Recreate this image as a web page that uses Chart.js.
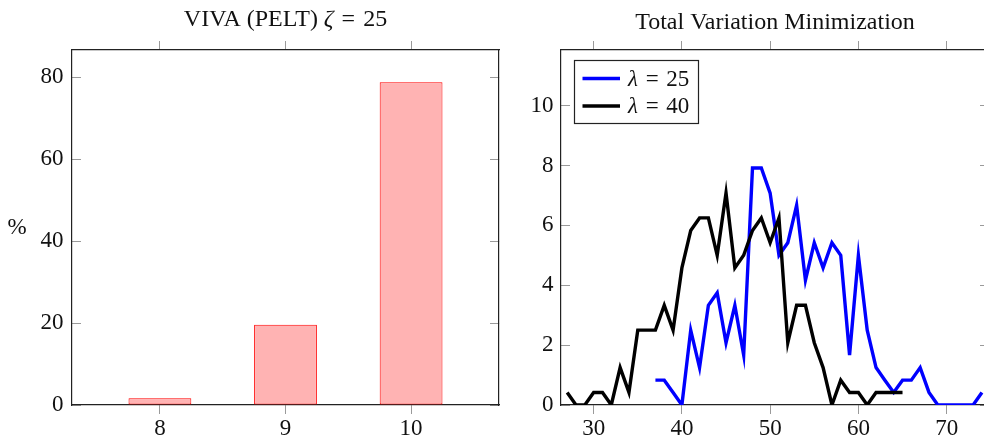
<!DOCTYPE html>
<html>
<head>
<meta charset="utf-8">
<script src="https://cdn.jsdelivr.net/npm/chart.js@4.4.1/dist/chart.umd.min.js"></script>
<style>
  html, body { margin: 0; padding: 0; background: #fff; overflow: hidden; }
  #wrap { position: relative; width: 1000px; height: 439px; }
  .panel { position: absolute; top: 0; }
  #left { left: 0; }
  #right { left: 520px; }
</style>
</head>
<body>
<div id="wrap">
  <div class="panel" id="left"><canvas id="barChart" width="520" height="439"></canvas></div>
  <div class="panel" id="right"><canvas id="tvChart" width="480" height="439"></canvas></div>
</div>
<script>
/* Segment count histogram (left) and TV-minimization distribution (right) */
const FONT = "'Liberation Serif', 'Times New Roman', serif";
const TEXT = "#111";
const TICK_GRAY = "#9a9a9a";
const BOX = "#222";
const EQ = "\u2004=\u2004"; // math-style spacing around "="

// left panel: share of runs per number of detected segments
const SEG_COUNTS = [8, 9, 10];
const SEG_PCT = [1.67, 19.58, 78.75];
const BAR_XTICKS = [8, 9, 10];
const BAR_YTICKS = [0, 20, 40, 60, 80];

// right panel: distribution for two regularisation weights
const TV_X25 = [37, 38, 39, 40, 41, 42, 43, 44, 45, 46, 47, 48, 49, 50, 51, 52, 53, 54, 55,
  56, 57, 58, 59, 60, 61, 62, 63, 64, 65, 66, 67, 68, 69, 70, 71, 72, 73, 74];
const TV_Y25 = [0.83, 0.83, 0.42, 0, 2.5, 1.25, 3.33, 3.75, 2.08, 3.33, 1.67, 7.92, 7.92, 7.08, 5.0, 5.42, 6.67, 4.17, 5.42,
  4.58, 5.42, 5.0, 1.67, 5.0, 2.5, 1.25, 0.83, 0.42, 0.83, 0.83, 1.25, 0.42, 0, 0, 0, 0, 0, 0.42];
const TV_X40 = [27, 28, 29, 30, 31, 32, 33, 34, 35, 36, 37, 38, 39, 40, 41, 42, 43, 44, 45, 46,
  47, 48, 49, 50, 51, 52, 53, 54, 55, 56, 57, 58, 59, 60, 61, 62, 63, 64, 65];
const TV_Y40 = [0.42, 0, 0, 0.42, 0.42, 0, 1.25, 0.42, 2.5, 2.5, 2.5, 3.33, 2.5, 4.58, 5.83, 6.25, 6.25, 5.0, 7.08, 4.58,
  5.0, 5.83, 6.25, 5.42, 6.25, 2.08, 3.33, 3.33, 2.08, 1.25, 0, 0.83, 0.42, 0.42, 0, 0.42, 0.42, 0.42, 0.42];
const TV_XTICKS = [30, 40, 50, 60, 70];
const TV_YTICKS = [0, 2, 4, 6, 8, 10];

Chart.defaults.font.family = FONT;
Chart.defaults.font.size = 23;
Chart.defaults.color = TEXT;

const fixSize = (px) => (scale) => {
  if (scale.isHorizontal()) scale.height = px;
  else scale.width = px;
};
const setTicks = (values) => (scale) => {
  scale.ticks = values.map((v) => ({ value: v }));
};

// draw a line of text made of regular / italic pieces, centred on cx
function drawRuns(ctx, runs, cx, y, size) {
  const fonts = runs.map(([, it]) => `${it ? "italic " : ""}${size}px ${FONT}`);
  const widths = runs.map(([t], i) => {
    ctx.font = fonts[i];
    return ctx.measureText(t).width;
  });
  let x = cx - widths.reduce((a, b) => a + b, 0) / 2;
  ctx.textAlign = "left";
  ctx.textBaseline = "alphabetic";
  runs.forEach(([t], i) => {
    ctx.font = fonts[i];
    ctx.fillText(t, x, y);
    x += widths[i];
  });
}

const panelText = {
  id: "panelText",
  afterDraw(chart, args, opts) {
    const { ctx, chartArea } = chart;
    ctx.save();
    ctx.fillStyle = TEXT;
    drawRuns(ctx, opts.title, (chartArea.left + chartArea.right) / 2, opts.baseline, 24);
    if (opts.yLabel) {
      ctx.font = `23px ${FONT}`;
      ctx.textAlign = "center";
      ctx.textBaseline = "middle";
      ctx.fillText(opts.yLabel, opts.yLabelX, (chartArea.top + chartArea.bottom) / 2);
    }
    ctx.restore();
  },
};

const boxLegend = {
  id: "boxLegend",
  afterDraw(chart, args, opts) {
    if (!opts.display) return;
    const { ctx, chartArea } = chart;
    const x0 = chartArea.left + opts.dx;
    const y0 = chartArea.top + opts.dy;
    ctx.save();
    ctx.fillStyle = "#fff";
    ctx.fillRect(x0, y0, opts.w, opts.h);
    ctx.strokeStyle = BOX;
    ctx.lineWidth = 1.2;
    ctx.strokeRect(x0 + 0.5, y0 + 0.5, opts.w, opts.h);
    chart.data.datasets.forEach((ds, i) => {
      const cy = y0 + opts.firstRow + i * opts.rowGap;
      ctx.strokeStyle = ds.borderColor;
      ctx.lineWidth = ds.borderWidth;
      ctx.beginPath();
      ctx.moveTo(x0 + 8.5, cy);
      ctx.lineTo(x0 + 46, cy);
      ctx.stroke();
      ctx.fillStyle = TEXT;
      const sym = ds.label.slice(0, 1);
      const rest = ds.label.slice(1);
      ctx.font = `italic 23px ${FONT}`;
      ctx.textBaseline = "middle";
      ctx.textAlign = "left";
      ctx.fillText(sym, x0 + 54, cy + 1);
      const w = ctx.measureText(sym).width;
      ctx.font = `23px ${FONT}`;
      ctx.fillText(rest, x0 + 54 + w, cy + 1);
    });
    ctx.restore();
  },
};

// shared axis pieces: x ticks point out of the box, y ticks point in
const xAxis = (pos, min, max, ticks, size, showLabels) => ({
  type: "linear",
  axis: "x",
  position: pos,
  min, max,
  offset: false,
  afterBuildTicks: setTicks(ticks),
  afterFit: fixSize(size),
  grid: { offset: false, drawOnChartArea: false, color: TICK_GRAY, tickLength: 9, lineWidth: 1 },
  border: { display: true, color: BOX, width: 1.2 },
  ticks: { display: showLabels, padding: 1, maxRotation: 0 },
});
const yAxis = (pos, min, max, ticks, size, showLabels, pad) => ({
  type: "linear",
  axis: "y",
  position: pos,
  min, max,
  afterBuildTicks: setTicks(ticks),
  afterFit: fixSize(size),
  grid: { drawOnChartArea: false, color: TICK_GRAY, tickLength: -9, lineWidth: 1 },
  border: { display: true, color: BOX, width: 1.2 },
  ticks: { display: showLabels, padding: pad },
});

new Chart(document.getElementById("barChart"), {
  type: "bar",
  data: {
    datasets: [{
      data: SEG_COUNTS.map((c, i) => ({ x: c, y: SEG_PCT[i] })),
      backgroundColor: "#ffb3b3",
      borderColor: "#ff0000",
      borderWidth: 1,
      borderSkipped: false,
      categoryPercentage: 1,
      barPercentage: 0.5,
    }],
  },
  options: {
    responsive: false,
    animation: false,
    events: [],
    layout: { padding: { left: 0, right: 21, top: 0, bottom: 0 } },
    scales: {
      x: xAxis("bottom", 7.3, 10.7, BAR_XTICKS, 34, true),
      x2: xAxis("top", 7.3, 10.7, BAR_XTICKS, 50, false),
      y: yAxis("left", 0, 86.6, BAR_YTICKS, 72, true, 17.5),
      y2: yAxis("right", 0, 86.6, BAR_YTICKS, 0, false, 0),
    },
    plugins: {
      legend: { display: false },
      tooltip: { enabled: false },
      panelText: {
        title: [["VIVA (PELT) ", false], ["\u03b6", true], [EQ + "25", false]],
        baseline: 26,
        yLabel: "%",
        yLabelX: 17,
      },
    },
  },
  plugins: [panelText],
});

new Chart(document.getElementById("tvChart"), {
  type: "line",
  data: {
    datasets: [
      {
        label: "\u03bb" + EQ + "25",
        data: TV_X25.map((x, i) => ({ x, y: TV_Y25[i] })),
        borderColor: "#0000ff",
        borderWidth: 3.4,
        order: 1,
      },
      {
        label: "\u03bb" + EQ + "40",
        data: TV_X40.map((x, i) => ({ x, y: TV_Y40[i] })),
        borderColor: "#000000",
        borderWidth: 3.4,
        order: 0,
      },
    ],
  },
  options: {
    responsive: false,
    animation: false,
    events: [],
    layout: { padding: { left: 0, right: 11, top: 0, bottom: 0 } },
    elements: {
      point: { radius: 0 },
      line: { tension: 0, borderJoinStyle: "miter", borderCapStyle: "butt", fill: false },
    },
    scales: {
      x: xAxis("bottom", 26.3, 74.8, TV_XTICKS, 34, true),
      x2: xAxis("top", 26.3, 74.8, TV_XTICKS, 50, false),
      y: yAxis("left", 0, 11.86, TV_YTICKS, 41, true, 16.5),
      y2: yAxis("right", 0, 11.86, TV_YTICKS, 0, false, 0),
    },
    plugins: {
      legend: { display: false },
      tooltip: { enabled: false },
      panelText: {
        title: [["Total Variation Minimization", false]],
        baseline: 29,
      },
      boxLegend: { display: true, dx: 13, dy: 10, w: 124, h: 63, firstRow: 18.5, rowGap: 27.5 },
    },
  },
  plugins: [panelText, boxLegend],
});
</script>
</body>
</html>
